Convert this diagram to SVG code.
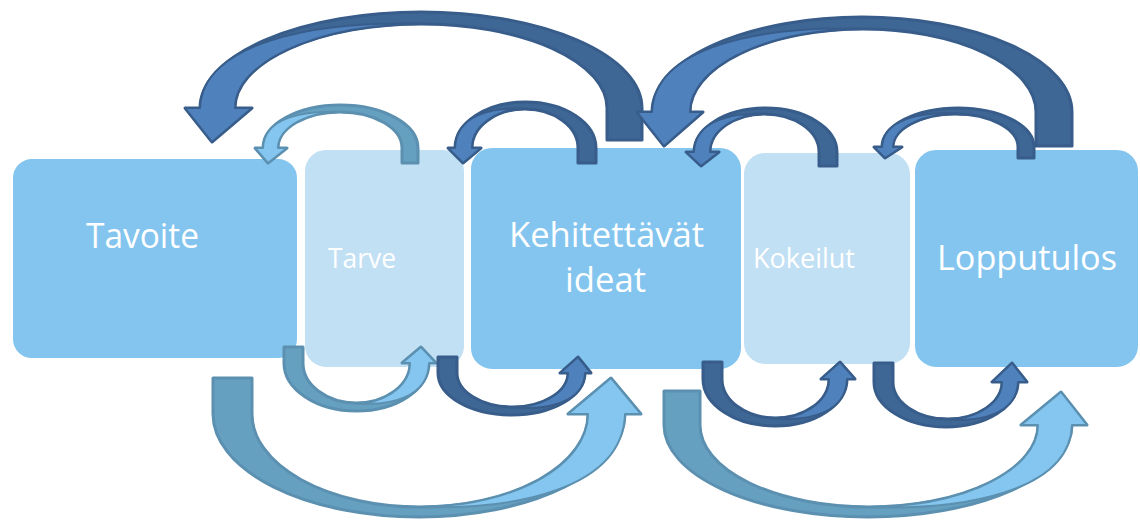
<svg xmlns="http://www.w3.org/2000/svg" width="1140" height="520" viewBox="0 0 1140 520">
<style>
.bd{fill:#83C5EE;stroke:#fff;stroke-width:2}
.bl{fill:#C2E0F4;stroke:#fff;stroke-width:2}
.t{fill:#fff;font-family:"Open Sans","Noto Sans",sans-serif}
.db{fill:#3E6796;stroke:#385D8A;stroke-width:3;stroke-linejoin:round}
.df{fill:#4F81BD;stroke:#385D8A;stroke-width:2;stroke-linejoin:round}
.tb{fill:#66A0C1;stroke:#5C90B0;stroke-width:3;stroke-linejoin:round}
.tf{fill:#84C6EF;stroke:#5C90B0;stroke-width:2;stroke-linejoin:round}
</style>
<rect width="1140" height="520" fill="#fff"/>
<g id="tavoite"><rect class="bd" x="12" y="158" width="286" height="201" rx="20"/><text class="t" x="86" y="248" font-size="35" textLength="113" lengthAdjust="spacingAndGlyphs">Tavoite</text></g>
<g id="tarve"><rect class="bl" x="304" y="149" width="161" height="219" rx="22"/><text class="t" x="328" y="268" font-size="28" textLength="68" lengthAdjust="spacingAndGlyphs">Tarve</text></g>
<g id="ideat"><rect class="bd" x="470" y="147" width="272" height="223" rx="22"/><text class="t" x="509" y="247" font-size="34" textLength="195" lengthAdjust="spacingAndGlyphs">Kehitettävät</text><text class="t" x="565" y="292" font-size="34" textLength="81" lengthAdjust="spacingAndGlyphs">ideat</text></g>
<g id="kokeilut"><rect class="bl" x="743" y="152" width="168" height="213" rx="22"/><text class="t" x="753" y="268" font-size="28" textLength="102" lengthAdjust="spacingAndGlyphs">Kokeilut</text></g>
<g id="lopputulos"><rect class="bd" x="914" y="149" width="225" height="219" rx="22"/><text class="t" x="937" y="270" font-size="35" textLength="180" lengthAdjust="spacingAndGlyphs">Lopputulos</text></g>
<g id="connectors">
<g id="a-ideat-tavoite"><path class="db" d="M642,140 L642,108 A221,96 0 0 0 200,108 L185,108 L212,142 L252,108 L235,108 A186,84 0 0 1 607,108 L607,140 Z"/><path class="df" d="M200,108 C202,44 311,17 449,25 A186,84 0 0 0 235,108 L252,108 L212,142 L185,108 Z"/></g>
<g id="a-tarve-tavoite"><path class="tb" d="M418,163 L418,148 A77.5,43 0 0 0 263,148 L255,148 L268,163 L287,148 L278,148 A62,36 0 0 1 402,148 L402,163 Z"/><path class="tf" d="M263,148 C264,118 302,109 349.3,112.4 A62,36 0 0 0 278,148 L287,148 L268,163 L255,148 Z"/></g>
<g id="a-ideat-tarve"><path class="db" d="M596,163 L596,148 A70.5,46 0 0 0 455,148 L448,148 L463,163 L481,148 L472,148 A53,39 0 0 1 578,148 L578,163 Z"/><path class="df" d="M455,148 C456,116 490,105 533,109.4 A53,39 0 0 0 472,148 L481,148 L463,163 L448,148 Z"/></g>
<g id="a-lopputulos-ideat"><path class="db" d="M1072,146 L1072,112 A210,95 0 0 0 652,112 L637,112 L664,146 L703,112 L690,112 A173,83 0 0 1 1036,112 L1036,146 Z"/><path class="df" d="M652,112 C654,48 757,22 889,30 A173,83 0 0 0 690,112 L703,112 L664,146 L637,112 Z"/></g>
<g id="a-kokeilut-ideat"><path class="db" d="M837,166 L837,152 A71.5,44 0 0 0 694,152 L686,152 L701,166 L719,152 L710,152 A54.5,38 0 0 1 819,152 L819,166 Z"/><path class="df" d="M694,152 C695,121 730,111 772.7,114.4 A54.5,38 0 0 0 710,152 L719,152 L701,166 L686,152 Z"/></g>
<g id="a-lopputulos-kokeilut"><path class="db" d="M1034,158 L1034,147 A76,39 0 0 0 882,147 L874,147 L885,158 L902,147 L893,147 A62.5,33 0 0 1 1018,147 L1018,158 Z"/><path class="df" d="M882,147 C883,120 920,110 964.9,114.4 A62.5,33 0 0 0 893,147 L902,147 L885,158 L874,147 Z"/></g>
<g id="a-tavoite-ideat"><path class="tb" d="M213,378 L213,414 A206,103 0 0 0 625,414 L641,414 L611,378 L568,414 L588,414 A168,93 0 0 1 252,414 L252,378 Z"/><path class="tf" d="M625,414 C623,486 522,514 394.8,505.9 A168,93 0 0 0 588,414 L568,414 L611,378 L641,414 Z"/></g>
<g id="a-tavoite-tarve"><path class="tb" d="M284,347 L284,363 A72.5,48 0 0 0 429,363 L436,363 L421,347 L402,363 L410,363 A53.5,40 0 0 1 303,363 L303,347 Z"/><path class="tf" d="M429,363 C428,396 393,408 348.5,402.5 A53.5,40 0 0 0 410,363 L402,363 L421,347 L436,363 Z"/></g>
<g id="a-tarve-ideat"><path class="db" d="M438,357 L438,373 A73.5,42 0 0 0 585,373 L591,373 L578,357 L560,373 L568,373 A55.5,34 0 0 1 457,373 L457,357 Z"/><path class="df" d="M585,373 C584,402 548,412 504.2,406.6 A55.5,34 0 0 0 568,373 L560,373 L578,357 L591,373 Z"/></g>
<g id="a-ideat-lopputulos"><path class="tb" d="M664,391 L664,425 A204,92 0 0 0 1072,425 L1087,425 L1061,392 L1021,425 L1038,425 A169,82 0 0 1 700,425 L700,391 Z"/><path class="tf" d="M1072,425 C1070,489 970,514 843.6,506.1 A169,82 0 0 0 1038,425 L1021,425 L1061,392 L1087,425 Z"/></g>
<g id="a-ideat-kokeilut"><path class="db" d="M703,362 L703,379 A72,47 0 0 0 847,379 L855,379 L840,362 L821,379 L829,379 A53.5,39 0 0 1 722,379 L722,362 Z"/><path class="df" d="M847,379 C846,412 811,423 767.5,417.6 A53.5,39 0 0 0 829,379 L821,379 L840,362 L855,379 Z"/></g>
<g id="a-kokeilut-lopputulos"><path class="db" d="M874,363 L874,382 A72,45 0 0 0 1018,382 L1027,382 L1012,363 L992,382 L1002,382 A54.5,37 0 0 1 893,382 L893,363 Z"/><path class="df" d="M1018,382 C1017,413 982,424 939.3,418.6 A54.5,37 0 0 0 1002,382 L992,382 L1012,363 L1027,382 Z"/></g>
</g>
</svg>
